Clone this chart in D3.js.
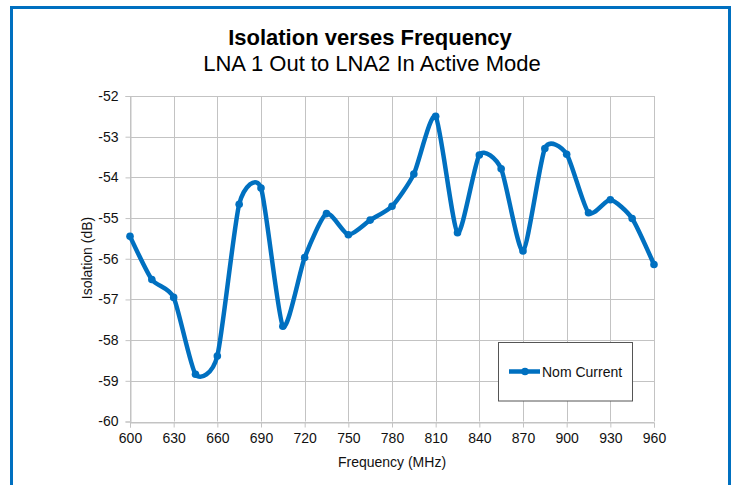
<!DOCTYPE html>
<html><head><meta charset="utf-8">
<script src="https://cdn.jsdelivr.net/npm/d3@7"></script>
<style>body{margin:0;background:#fff}svg{display:block}text{font-family:"Liberation Sans",Arial,sans-serif}</style>
</head><body>
<svg id="c" width="735" height="485"></svg>
<script>
const frequencies = [600,615,630,645,660,675,690,705,720,735,750,765,780,795,810,825,840,855,870,885,900,915,930,945,960];
const isolation = [-55.45,-56.51,-56.95,-58.84,-58.39,-54.66,-54.26,-57.66,-55.97,-54.89,-55.41,-55.05,-54.71,-53.92,-52.5,-55.36,-53.45,-53.79,-55.81,-53.29,-53.43,-54.87,-54.55,-55.01,-56.14];
const xTicks = [600,630,660,690,720,750,780,810,840,870,900,930,960];
const yTicks = [-60,-59,-58,-57,-56,-55,-54,-53,-52];
const seriesName = "Nom Current";
const titleText = "Isolation verses Frequency";
const subtitleText = "LNA 1 Out to LNA2 In Active Mode";
const xLabel = "Frequency (MHz)";
const yLabel = "Isolation (dB)";

const blue = "#0070C0";
const grid = "#c3c3c3";
const svg = d3.select("#c");

// frame
svg.append("path").attr("d","M11.5,485 V7.5 H729.5 V485")
  .attr("fill","none").attr("stroke",blue).attr("stroke-width",3);

const L=130, R=654, T=96, B=421.5;
const x = d3.scaleLinear().domain([600,960]).range([L,R]);
const y = d3.scaleLinear().domain([-60,-52]).range([B,T]);

// grid
const g = svg.append("g");
g.selectAll("line.v").data(xTicks).join("line")
  .attr("x1",d=>Math.round(x(d))+0.5).attr("x2",d=>Math.round(x(d))+0.5)
  .attr("y1",T).attr("y2",B).attr("stroke",grid).attr("stroke-width",1);
g.selectAll("line.h").data(yTicks).join("line")
  .attr("y1",d=>Math.round(y(d))+0.5).attr("y2",d=>Math.round(y(d))+0.5)
  .attr("x1",L).attr("x2",R).attr("stroke",grid).attr("stroke-width",1);

// axes
const xa = svg.append("g").attr("transform",`translate(0,${Math.round(B)+0.5})`)
  .call(d3.axisBottom(x).tickValues(xTicks).tickSize(5).tickPadding(6));
const ya = svg.append("g").attr("transform",`translate(${L+0.5},0)`)
  .call(d3.axisLeft(y).tickValues(yTicks).tickSize(5).tickPadding(7).tickFormat(d=>d));
[xa,ya].forEach(a=>{
  a.select(".domain").attr("stroke",grid);
  a.selectAll(".tick line").attr("stroke",grid);
  a.selectAll(".tick text").attr("fill","#111").attr("font-size",14)
   .style("font-family","'Liberation Sans',Arial,sans-serif");
});

// series
const line = d3.line().x((d,i)=>x(frequencies[i])).y(d=>y(d)).curve(d3.curveCardinal.tension(0.35));
svg.append("path").datum(isolation).attr("d",line)
  .attr("fill","none").attr("stroke",blue).attr("stroke-width",4.5).attr("stroke-linejoin","round");
svg.selectAll("circle.pt").data(isolation).join("circle")
  .attr("cx",(d,i)=>x(frequencies[i])).attr("cy",d=>y(d)).attr("r",3.8).attr("fill",blue);

// titles
svg.append("text").attr("x",370).attr("y",45).attr("text-anchor","middle")
  .attr("font-size",22).attr("font-weight","bold").attr("fill","#000").text(titleText);
svg.append("text").attr("x",372).attr("y",71).attr("text-anchor","middle")
  .attr("font-size",22).attr("fill","#000").text(subtitleText);
svg.append("text").attr("x",392).attr("y",467).attr("text-anchor","middle")
  .attr("font-size",14).attr("fill","#111").text(xLabel);
svg.append("text").attr("transform","translate(92,258) rotate(-90)").attr("text-anchor","middle")
  .attr("font-size",14).attr("fill","#111").text(yLabel);

// legend
const lg = svg.append("g");
lg.append("rect").attr("x",498.5).attr("y",342.5).attr("width",134).attr("height",58.5)
  .attr("fill","#fff").attr("stroke","#555").attr("stroke-width",1);
lg.append("line").attr("x1",509).attr("x2",540).attr("y1",371.5).attr("y2",371.5)
  .attr("stroke",blue).attr("stroke-width",4.5);
lg.append("circle").attr("cx",525).attr("cy",371.5).attr("r",3.8).attr("fill",blue);
lg.append("text").attr("x",542).attr("y",376.5).attr("font-size",14).attr("fill","#111").text(seriesName);
</script>
</body></html>
